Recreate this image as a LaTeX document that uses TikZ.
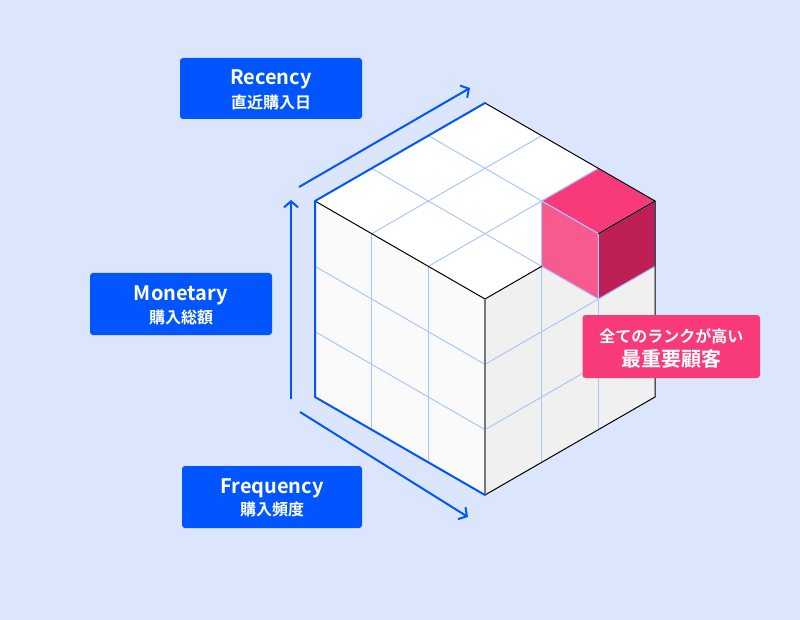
\documentclass[tikz,border=0pt]{standalone}
\usepackage{fontspec}
\setmainfont{Noto Sans CJK JP}[BoldFont={Noto Sans CJK JP Bold}]
\usetikzlibrary{arrows.meta,calc}
\definecolor{bg}{RGB}{219,230,252}
\definecolor{mainblue}{RGB}{0,85,255}
\definecolor{gridblue}{RGB}{170,198,250}
\definecolor{pinkbox}{RGB}{248,58,122}
\definecolor{pinktop}{RGB}{248,58,122}
\definecolor{pinkleft}{RGB}{246,90,142}
\definecolor{pinkright}{RGB}{190,31,85}
\definecolor{leftface}{RGB}{250,250,250}
\definecolor{rightface}{RGB}{240,240,240}
\definecolor{frontedge}{RGB}{120,120,120}
\tikzset{
  labelbox/.style={fill=mainblue, rounded corners=3pt},
  pinklabel/.style={fill=pinkbox, rounded corners=3pt},
  title/.style={text=white, font=\bfseries\fontsize{20}{22}\selectfont, anchor=base, inner sep=0pt},
  subtitle/.style={text=white, font=\bfseries\fontsize{16}{18}\selectfont, anchor=base, inner sep=0pt},
  gridline/.style={draw=gridblue, line width=1pt},
  axisarrow/.style={draw=mainblue, line width=2pt, -{Straight Barb[length=6pt,width=14pt,line width=2pt]}},
  blueedge/.style={draw=mainblue, line width=2pt, line cap=round, line join=round},
  blackedge/.style={draw=black, line width=1pt},
}
\begin{document}
\begin{tikzpicture}[x=1pt,y=-1pt]
\useasboundingbox[fill=bg] (0,0) rectangle (800,620);
% cube corners
\coordinate (T) at (485,103);
\coordinate (L) at (315,201);
\coordinate (R) at (655,201);
\coordinate (F) at (485,299);
\coordinate (LB) at (315,397);
\coordinate (FB) at (485,495);
\coordinate (RB) at (655,397);
% faces
\fill[white] (T) -- (R) -- (F) -- (L) -- cycle;
\fill[leftface] (L) -- (F) -- (FB) -- (LB) -- cycle;
\fill[rightface] (F) -- (R) -- (RB) -- (FB) -- cycle;
% grids
\foreach \t in {0.3333333,0.6666667}{
  \draw[gridline] ($(L)!\t!(F)$) -- ($(LB)!\t!(FB)$);
  \draw[gridline] ($(L)!\t!(LB)$) -- ($(F)!\t!(FB)$);
  \draw[gridline] ($(F)!\t!(R)$) -- ($(FB)!\t!(RB)$);
  \draw[gridline] ($(F)!\t!(FB)$) -- ($(R)!\t!(RB)$);
  \draw[gridline] ($(T)!\t!(L)$) -- ($(R)!\t!(F)$);
  \draw[gridline] ($(T)!\t!(R)$) -- ($(L)!\t!(F)$);
}
% pink cube
\coordinate (P1) at ($(T)!0.6666667!(R)$);
\coordinate (P2) at ($(F)!0.6666667!(R)$);
\coordinate (PC) at (541.6667,201);
\coordinate (PCd) at (541.6667,266.3333);
\coordinate (P2d) at ($(P2)+(0,65.3333)$);
\coordinate (Rd) at ($(R)+(0,65.3333)$);
\filldraw[fill=pinktop, draw=gridblue, line width=1pt] (PC) -- (P1) -- (R) -- (P2) -- cycle;
\filldraw[fill=pinkleft, draw=gridblue, line width=1pt] (PC) -- (P2) -- (P2d) -- (PCd) -- cycle;
\filldraw[fill=pinkright, draw=gridblue, line width=1pt] (P2) -- (R) -- (Rd) -- (P2d) -- cycle;
% edges
\draw[blackedge] (L) -- (F);
\draw[blackedge] (T) -- (R);
\draw[blackedge] (F) -- (PCd);
\draw[blackedge] (P2) -- (R);
\draw[blackedge] (R) -- (RB) -- (FB);
\draw[draw=frontedge, line width=2pt] (F) -- (FB);
\draw[blueedge] (T) -- (L) -- (LB) -- (FB);
% axis arrows
\coordinate (ra) at (299,187);
\coordinate (rb) at (470,88);
\coordinate (ma) at (291,399);
\coordinate (mb) at (291,200);
\coordinate (fa) at (300,412);
\coordinate (fb) at (468,517);
\draw[axisarrow] (ra) -- (rb);
\draw[axisarrow] (ma) -- (mb);
\draw[axisarrow] (fa) -- (fb);
% label boxes
\path[labelbox] (180,58) rectangle (362,119) coordinate (recbox);
\node[title] (rec) at (271,85) {Recency};
\node[subtitle] (recj) at (271,108.8) {直近購入日};
\path[labelbox] (90,273) rectangle (272,335) coordinate (monbox);
\node[title] (mon) at (181,300.7) {Monetary};
\node[subtitle] (monj) at (181,323.6) {購入総額};
\path[labelbox] (182,466) rectangle (362,528) coordinate (frebox);
\node[title] (fre) at (272,493.3) {Frequency};
\node[subtitle] (frej) at (272,515) {購入頻度};
\path[pinklabel] (582.5,315) rectangle (760,378) coordinate (pinkbox);
\node[subtitle] (pk1) at (671.25,342.7) {全てのランクが高い};
\node[text=white, font=\bfseries\fontsize{20}{22}\selectfont, anchor=base, inner sep=0pt] (pk2) at (671.25,366.3) {最重要顧客};
\end{tikzpicture}
\end{document}
